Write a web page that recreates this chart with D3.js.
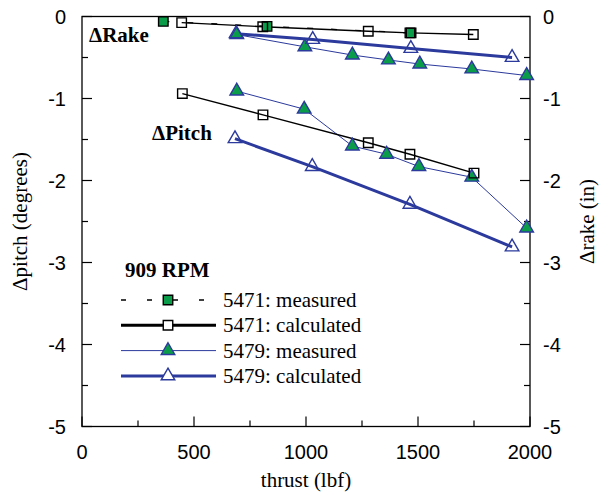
<!DOCTYPE html>
<html>
<head>
<meta charset="utf-8">
<script src="https://cdn.jsdelivr.net/npm/d3@7"></script>
<style>
  body { margin: 0; background: #fff; }
  svg { display: block; }
</style>
</head>
<body>
<svg id="chart" width="599" height="492"></svg>
<script>
// thrust (lbf) / delta values
const rake5471Measured = [[363, -0.06], [826, -0.12], [1469, -0.2]];
const rake5471Calc = [[445, -0.075], [807, -0.125], [1278, -0.18], [1464, -0.2], [1747, -0.22]];
const rake5479Measured = [[691, -0.22], [995, -0.37], [1207, -0.47], [1368, -0.53], [1508, -0.58], [1740, -0.64], [1985, -0.72]];
const rake5479Calc = [[688, -0.21], [1030, -0.28], [1468, -0.39], [1920, -0.5]];

const pitch5471Calc = [[448, -0.94], [808, -1.2], [1278, -1.54], [1464, -1.68], [1750, -1.91]];
const pitch5479Measured = [[691, -0.91], [992, -1.13], [1207, -1.58], [1360, -1.68], [1504, -1.83], [1740, -1.96], [1985, -2.58]];
const pitch5479Calc = [[683, -1.49], [1028, -1.83], [1464, -2.29], [1920, -2.81]];

const xTicks = [0, 500, 1000, 1500, 2000];
const yTicks = [0, -1, -2, -3, -4, -5];
const legendLabels = ['5471: measured', '5471: calculated', '5479: measured', '5479: calculated'];

const green = '#0b9c4a', blue = '#2b3a9c';
const SERIF = '"Liberation Serif", "Times New Roman", serif';
const SANS = '"Liberation Sans", Arial, sans-serif';

const m = { left: 82, right: 530, top: 16.5, bottom: 426.5 };
const svg = d3.select('#chart');

const x = d3.scaleLinear().domain([0, 2000]).range([m.left, m.right]);
const y = d3.scaleLinear().domain([0, -5]).range([m.top, m.bottom]);   // pitch (deg)
const y2 = d3.scaleLinear().domain([0, -5]).range([m.top, m.bottom]);  // rake (in)

// frame
svg.append('rect')
    .attr('x', m.left).attr('y', m.top)
    .attr('width', m.right - m.left).attr('height', m.bottom - m.top)
    .attr('fill', 'none').attr('stroke', '#000').attr('stroke-width', 1.3);

// ticks (inward), minor every half step
const g = svg.append('g').attr('stroke', '#000').attr('stroke-width', 1.2);
d3.range(0, 2001, 250).forEach(v => {
    const len = v % 500 === 0 ? 10 : 6;
    g.append('line').attr('x1', x(v)).attr('x2', x(v)).attr('y1', m.bottom).attr('y2', m.bottom - len);
});
d3.range(0, -5.01, -0.5).forEach(v => {
    const len = Math.abs(v % 1) < 1e-9 ? 10 : 6;
    g.append('line').attr('x1', m.left).attr('x2', m.left + len).attr('y1', y(v)).attr('y2', y(v));
    g.append('line').attr('x1', m.right).attr('x2', m.right - len).attr('y1', y2(v)).attr('y2', y2(v));
});

// tick labels
svg.append('g').attr('font-family', SANS).attr('font-size', 20).attr('text-anchor', 'middle')
  .selectAll('text').data(xTicks).join('text')
    .attr('x', d => x(d)).attr('y', 459).text(d => d);
svg.append('g').attr('font-family', SANS).attr('font-size', 20).attr('text-anchor', 'end')
  .selectAll('text').data(yTicks).join('text')
    .attr('x', 66).attr('y', d => y(d) + 7).text(d => d);
svg.append('g').attr('font-family', SANS).attr('font-size', 20).attr('text-anchor', 'start')
  .selectAll('text').data(yTicks).join('text')
    .attr('x', 543).attr('y', d => y2(d) + 7).text(d => d);

// axis titles
svg.append('text').attr('font-family', SERIF).attr('font-size', 21).attr('text-anchor', 'middle')
    .attr('x', (m.left + m.right) / 2).attr('y', 487).text('thrust (lbf)');
svg.append('text').attr('font-family', SERIF).attr('font-size', 21).attr('text-anchor', 'middle')
    .attr('transform', `translate(27,${(m.top + m.bottom) / 2}) rotate(-90)`).text('\u0394pitch (degrees)');
svg.append('text').attr('font-family', SERIF).attr('font-size', 21).attr('text-anchor', 'middle')
    .attr('transform', `translate(594,${(m.top + m.bottom) / 2}) rotate(-90)`).text('\u0394rake (in)');

// in-plot labels
svg.append('text').attr('font-family', SERIF).attr('font-size', 21).attr('font-weight', 'bold')
    .attr('x', 89).attr('y', 42).text('\u0394Rake');
svg.append('text').attr('font-family', SERIF).attr('font-size', 21).attr('font-weight', 'bold')
    .attr('x', 152).attr('y', 140).text('\u0394Pitch');

const sq = d3.symbol().type(d3.symbolSquare).size(90);
const tri = d3.symbol().type(d3.symbolTriangle).size(80);

const styles = {
    m5471: { stroke: '#000', width: 1.3, dash: '6,18', marker: sq, fill: green, mstroke: '#000' },
    c5471: { stroke: '#000', width: 1.4, dash: null, marker: sq, fill: 'none', mstroke: '#000' },
    m5479: { stroke: blue, width: 1, dash: null, marker: tri, fill: green, mstroke: blue },
    c5479: { stroke: blue, width: 3, dash: null, marker: tri, fill: 'none', mstroke: blue }
};

function series(data, ys, st) {
    const line = d3.line().x(d => x(d[0])).y(d => ys(d[1]));
    svg.append('path').datum(data)
        .attr('d', line).attr('fill', 'none')
        .attr('stroke', st.stroke).attr('stroke-width', st.width)
        .attr('stroke-dasharray', st.dash);
    return () => svg.append('g').selectAll('path').data(data).join('path')
        .attr('d', st.marker)
        .attr('transform', d => `translate(${x(d[0])},${ys(d[1])})`)
        .attr('fill', st.fill).attr('stroke', st.mstroke).attr('stroke-width', 1.4);
}

const markerDraws = [
    series(rake5471Measured, y2, styles.m5471),
    series(pitch5479Measured, y, styles.m5479),
    series(rake5479Measured, y2, styles.m5479),
    series(pitch5479Calc, y, styles.c5479),
    series(rake5479Calc, y2, styles.c5479),
    series(pitch5471Calc, y, styles.c5471),
    series(rake5471Calc, y2, styles.c5471)
];
markerDraws.forEach(f => f());

// legend
svg.append('text').attr('font-family', SERIF).attr('font-size', 21).attr('font-weight', 'bold')
    .attr('x', 125).attr('y', 277).text('909 RPM');

const legendStyles = [
    styles.m5471,
    Object.assign({}, styles.c5471, { width: 3 }),
    styles.m5479,
    styles.c5479
];
const leg = svg.append('g').selectAll('g').data(legendLabels).join('g')
    .attr('transform', (d, i) => `translate(0,${300 + i * 25.3})`);
leg.append('line')
    .attr('x1', 121).attr('x2', 216).attr('y1', 0).attr('y2', 0)
    .attr('stroke', (d, i) => legendStyles[i].stroke)
    .attr('stroke-width', (d, i) => legendStyles[i].width)
    .attr('stroke-dasharray', (d, i) => legendStyles[i].dash ? '5,21' : null);
leg.append('path')
    .attr('d', (d, i) => legendStyles[i].marker())
    .attr('transform', 'translate(168,0)')
    .attr('fill', (d, i) => legendStyles[i].fill === 'none' ? '#fff' : legendStyles[i].fill)
    .attr('stroke', (d, i) => legendStyles[i].mstroke).attr('stroke-width', 1.4);
leg.append('text').attr('font-family', SERIF).attr('font-size', 21)
    .attr('x', 223).attr('y', 7).text(d => d);
</script>
</body>
</html>
